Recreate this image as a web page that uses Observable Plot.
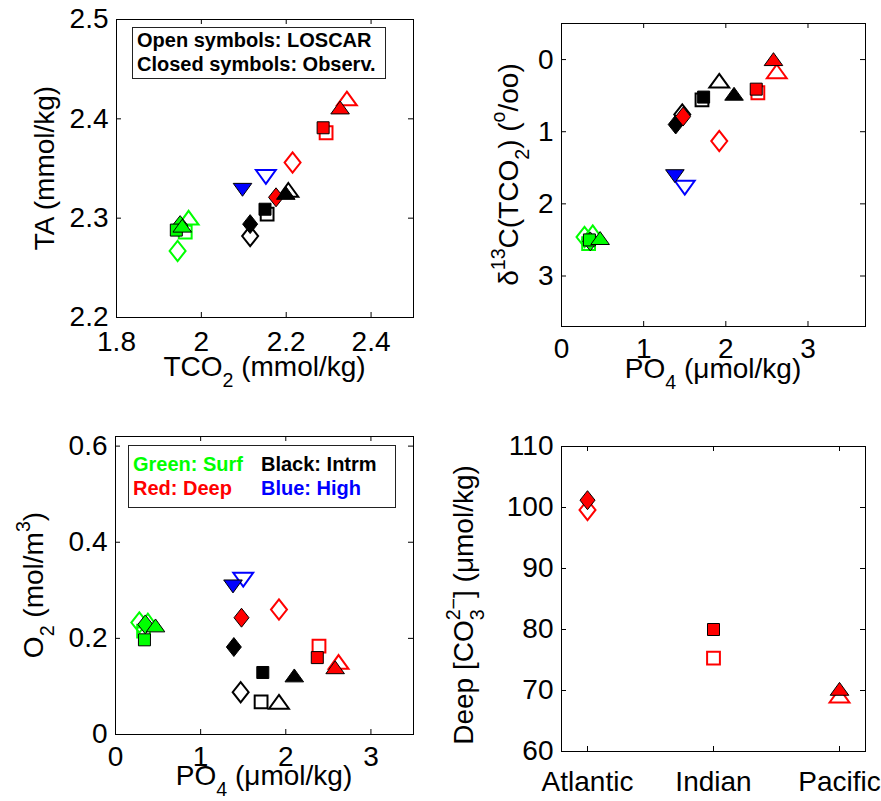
<!DOCTYPE html>
<html>
<head>
<meta charset="utf-8">
<script src="https://cdn.jsdelivr.net/npm/d3@7"></script>
<script src="https://cdn.jsdelivr.net/npm/@observablehq/plot@0.6"></script>
<style>
  html, body { margin: 0; padding: 0; background: #fff; }
  #wrap { position: relative; width: 881px; height: 801px; overflow: hidden; font-family: 'Liberation Sans', Arial, Helvetica, sans-serif; }
  .pan { position: absolute; }
  .pan svg { display: block; overflow: visible; max-width: none !important; }
  .legend { position: absolute; box-sizing: border-box; border: 1px solid #222; background: #fff;
            font-weight: bold; font-size: 20px; line-height: 24px; white-space: nowrap; }
  .legend span { display: inline-block; }
</style>
</head>
<body>
<div id="wrap"></div>
<script>
// ---------- data ----------
// Ten LOSCAR ocean boxes: three basins x three layers, plus the high-latitude box
const boxes      = ["Atl Surf","Ind Surf","Pac Surf","Atl Intrm","Ind Intrm","Pac Intrm","Atl Deep","Ind Deep","Pac Deep","High"];
const boxBasin   = ["Atlantic","Indian","Pacific","Atlantic","Indian","Pacific","Atlantic","Indian","Pacific","High"];
const boxLayer   = ["Surf","Surf","Surf","Intrm","Intrm","Intrm","Deep","Deep","Deep","High"];

// Panel 1: TCO2 vs TA (mmol/kg)
const tco2Model = [1.944, 1.962, 1.970, 2.115, 2.155, 2.205, 2.215, 2.294, 2.343, 2.152];
const taModel   = [2.267, 2.286, 2.300, 2.282, 2.304, 2.328, 2.356, 2.386, 2.420, 2.342];
const tco2Obs   = [1.950, 1.941, 1.955, 2.115, 2.150, 2.199, 2.176, 2.287, 2.327, 2.097];
const taObs     = [2.293, 2.288, 2.292, 2.294, 2.309, 2.325, 2.321, 2.391, 2.411, 2.329];

// PO4 (umol/kg), shared by panels 2 and 3
const po4Model  = [0.28, 0.33, 0.38, 1.47, 1.71, 1.92, 1.92, 2.39, 2.62, 1.50];
const po4Obs    = [0.35, 0.34, 0.47, 1.39, 1.73, 2.10, 1.48, 2.37, 2.58, 1.38];

// Panel 2: d13C (per mil)
const d13cModel = [2.46, 2.55, 2.40, 0.76, 0.56, 0.30, 1.13, 0.46, 0.17, 1.77];
const d13cObs   = [2.52, 2.50, 2.48, 0.90, 0.52, 0.48, 0.79, 0.41, 0.00, 1.61];

// Panel 3: O2 (mol/m3)
const o2Model   = [0.233, 0.215, 0.236, 0.088, 0.068, 0.067, 0.260, 0.184, 0.150, 0.323];
const o2Obs     = [0.229, 0.197, 0.226, 0.182, 0.129, 0.122, 0.243, 0.160, 0.139, 0.309];

// Panel 4: deep carbonate ion (umol/kg)
const deepBasins = ["Atlantic","Indian","Pacific"];
const co3Model   = [99.6, 75.3, 69.1];
const co3Obs     = [101.2, 80.0, 70.2];

// tick labels
const xTicks1 = [1.8, 2, 2.2, 2.4], yTicks1 = [2.2, 2.3, 2.4, 2.5];
const xTicks2 = [0, 1, 2, 3],       yTicks2 = [0, 1, 2, 3];
const xTicks3 = [0, 1, 2, 3],       yTicks3 = [0, 0.2, 0.4, 0.6];
const yTicks4 = [60, 70, 80, 90, 100, 110];

// ---------- styling ----------
const FONT = "'Liberation Sans', Arial, Helvetica, sans-serif";
const FS = 28;
const layerColour = {Surf: "#00ff00", Intrm: "#000000", Deep: "#ff0000", High: "#0000ff"};
const rad = s => Math.sqrt(s / Math.PI);
const symbols = {
  Atlantic: {draw(c, s) { const r = rad(s), w = 1.25 * r, h = 1.58 * r;
    c.moveTo(0, -h); c.lineTo(w, 0); c.lineTo(0, h); c.lineTo(-w, 0); c.closePath(); }},
  Indian: {draw(c, s) { const r = rad(s);
    c.moveTo(-r, -r); c.lineTo(r, -r); c.lineTo(r, r); c.lineTo(-r, r); c.closePath(); }},
  Pacific: {draw(c, s) { const r = rad(s);
    c.moveTo(0, -1.15 * r); c.lineTo(1.55 * r, 1.0 * r); c.lineTo(-1.55 * r, 1.0 * r); c.closePath(); }},
  High: {draw(c, s) { const r = rad(s);
    c.moveTo(0, 1.15 * r); c.lineTo(1.55 * r, -1.0 * r); c.lineTo(-1.55 * r, -1.0 * r); c.closePath(); }}
};

function records(xs, ys, basins, layers) {
  return xs.map((x, i) => ({x, y: ys[i], basin: basins[i], layer: layers[i]}));
}

function symbolMarks(model, obs) {
  const marks = [];
  for (const b of Object.keys(symbols)) {
    marks.push(Plot.dot(model.filter(d => d.basin === b), {
      x: "x", y: "y", symbol: symbols[b], r: 6.4, fill: "none",
      stroke: d => layerColour[d.layer], strokeWidth: 2
    }));
  }
  for (const b of Object.keys(symbols)) {
    marks.push(Plot.dot(obs.filter(d => d.basin === b), {
      x: "x", y: "y", symbol: symbols[b], r: 6, fill: d => layerColour[d.layer],
      stroke: "black", strokeWidth: 1
    }));
  }
  return marks;
}

function rich(svg, x, y, angle, parts, size = FS) {
  const t = d3.select(svg).append("text")
    .attr("transform", `translate(${x},${y}) rotate(${angle})`)
    .attr("text-anchor", "middle").attr("font-family", FONT)
    .attr("font-size", size).attr("fill", "black");
  let cur = 0;
  for (const p of parts) {
    const [s, k, dx] = Array.isArray(p) ? p : [p, null, 0];
    const target = k === "sub" ? 0.4 * size : k === "sup" ? -0.45 * size : 0;
    const sp = t.append("tspan").text(s);
    if (target - cur) sp.attr("dy", target - cur);
    if (k) sp.attr("font-size", 0.7 * size);
    if (dx) sp.attr("dx", dx);
    cur = target;
  }
}

const wrap = document.getElementById("wrap");

function panel(o) {
  const fw = o.width - o.ml - o.mr, fh = o.height - o.mt - o.mb;
  const svg = Plot.plot({
    width: o.width, height: o.height,
    marginTop: o.mt, marginRight: o.mr, marginBottom: o.mb, marginLeft: o.ml,
    x: {...o.x, label: null}, y: {...o.y, label: null},
    color: {type: "identity"},
    style: {fontFamily: FONT, background: "transparent", overflow: "visible"},
    marks: [
      Plot.frame({stroke: "black", strokeWidth: 1}),
      Plot.tickX(o.xt, {x: d => d, insetTop: fh - 5, stroke: "black"}),
      Plot.tickX(o.xt, {x: d => d, insetBottom: fh - 5, stroke: "black"}),
      Plot.tickY(o.yt, {y: d => d, insetRight: fw - 5, stroke: "black"}),
      Plot.tickY(o.yt, {y: d => d, insetLeft: fw - 5, stroke: "black"}),
      Plot.axisX(o.xt, {tickSize: 0, tickPadding: o.pad, fontSize: FS, label: null,
                        tickFormat: d => String(d), fill: "black"}),
      Plot.axisY(o.yt, {tickSize: 0, tickPadding: 8, fontSize: FS, label: null,
                        tickFormat: d => String(d), fill: "black"}),
      ...symbolMarks(o.model, o.obs)
    ]
  });
  const div = document.createElement("div");
  div.className = "pan";
  div.style.left = o.left + "px"; div.style.top = o.top + "px";
  div.style.width = o.width + "px"; div.style.height = o.height + "px";
  div.appendChild(svg);
  wrap.appendChild(div);
  return svg;
}

// Panel 1
const s1 = panel({
  left: 0, top: 0, width: 440, height: 400, mt: 19, mr: 27, mb: 83, ml: 116,
  x: {domain: [1.8, 2.5]}, y: {domain: [2.2, 2.5]}, xt: xTicks1, yt: yTicks1, pad: 14,
  model: records(tco2Model, taModel, boxBasin, boxLayer),
  obs: records(tco2Obs, taObs, boxBasin, boxLayer)
});
rich(s1, 54, 168, -90, ["TA (mmol/kg)"]);
rich(s1, 264.5, 376, 0, ["TCO", ["2", "sub"], " (mmol/kg)"]);

// Panel 2
const s2 = panel({
  left: 440, top: 0, width: 441, height: 410, mt: 23, mr: 16, mb: 84, ml: 121,
  x: {domain: [0, 3.7]}, y: {domain: [-0.5, 3.7], reverse: true}, xt: xTicks2, yt: yTicks2, pad: 12,
  model: records(po4Model, d13cModel, boxBasin, boxLayer),
  obs: records(po4Obs, d13cObs, boxBasin, boxLayer)
});
rich(s2, 78, 174.5, -90, ["δ", ["13", "sup"], "C(TCO", ["2", "sub"], ") (", ["o", "sup"], "/oo)"]);
rich(s2, 273, 378, 0, ["PO", ["4", "sub"], " (μmol/kg)"]);

// Panel 3
const s3 = panel({
  left: 0, top: 410, width: 440, height: 391, mt: 26, mr: 27, mb: 67, ml: 115,
  x: {domain: [0, 3.5]}, y: {domain: [0, 0.62]}, xt: xTicks3, yt: yTicks3, pad: 12,
  model: records(po4Model, o2Model, boxBasin, boxLayer),
  obs: records(po4Obs, o2Obs, boxBasin, boxLayer)
});
rich(s3, 43, 175, -90, ["O", ["2", "sub"], " (mol/m", ["3", "sup"], ")"]);
rich(s3, 264, 375, 0, ["PO", ["4", "sub"], " (μmol/kg)"]);

// Panel 4
const deepLayer = deepBasins.map(() => "Deep");
const s4 = panel({
  left: 440, top: 410, width: 441, height: 391, mt: 36, mr: 16, mb: 50, ml: 121,
  x: {type: "point", domain: deepBasins, padding: 0.2}, y: {domain: [60, 110]},
  xt: deepBasins, yt: yTicks4, pad: 20,
  model: records(deepBasins, co3Model, deepBasins, deepLayer),
  obs: records(deepBasins, co3Obs, deepBasins, deepLayer)
});
rich(s4, 33, 195, -90, ["Deep [CO", ["3", "sub"], ["2−", "sup", -10.9], "] (μmol/kg)"]);

// Legends
function legend(left, top, width, height, padTop, lines) {
  const d = document.createElement("div");
  d.className = "legend";
  Object.assign(d.style, {left: left + "px", top: top + "px", width: width + "px", height: height + "px",
                          paddingTop: padTop + "px", paddingLeft: "4px"});
  for (const line of lines) {
    const l = document.createElement("div");
    for (const [txt, col, w] of line) {
      const s = document.createElement("span");
      s.textContent = txt; s.style.color = col; if (w) s.style.width = w + "px";
      l.appendChild(s);
    }
    d.appendChild(l);
  }
  wrap.appendChild(d);
}
legend(132, 27, 254, 52, 0, [[["Open symbols: LOSCAR", "#000"]], [["Closed symbols: Observ.", "#000"]]]);
legend(128, 445, 268, 63, 6, [
  [["Green: Surf", layerColour.Surf, 128], ["Black: Intrm", layerColour.Intrm]],
  [["Red: Deep", layerColour.Deep, 128], ["Blue: High", layerColour.High]]
]);
</script>
</body>
</html>
